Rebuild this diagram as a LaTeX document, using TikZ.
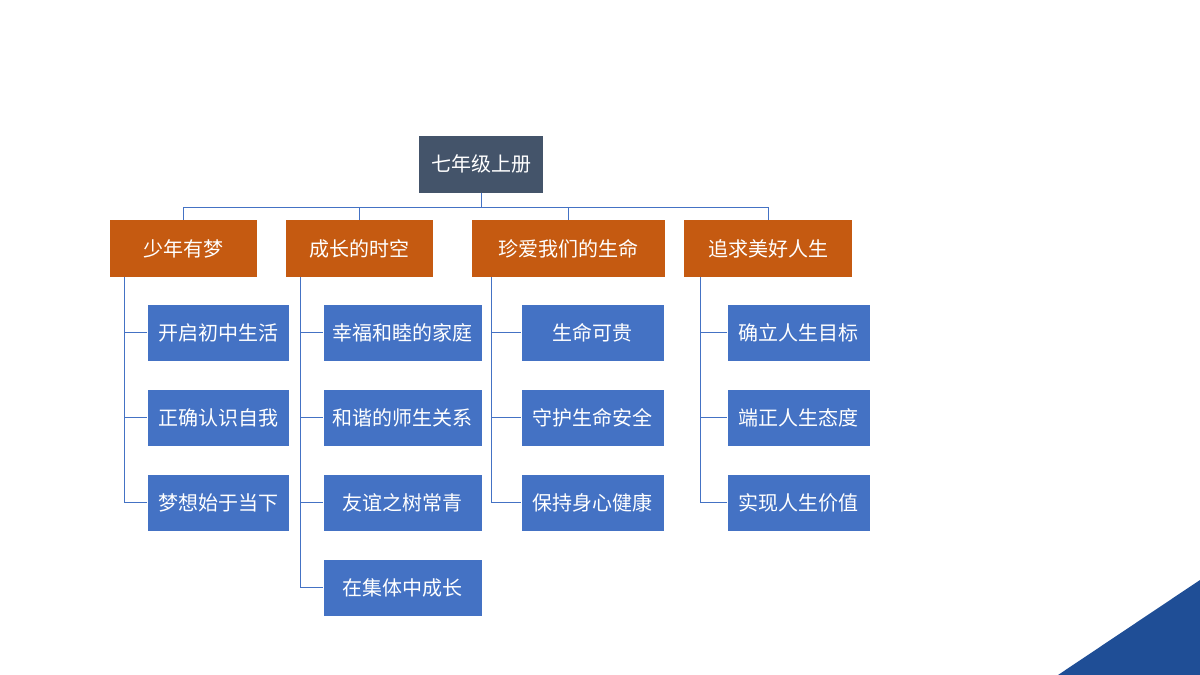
\documentclass[tikz,border=0pt]{standalone}
\usepackage{fontspec}
\setmainfont{Noto Sans CJK SC}
\definecolor{rootc}{HTML}{44546A}
\definecolor{unitc}{HTML}{C55A11}
\definecolor{itemc}{HTML}{4472C4}
\definecolor{cornerc}{HTML}{1F4E96}
\tikzset{
  box/.style = {text=white, font=\fontsize{20}{24}\selectfont, inner sep=0pt, minimum height=57pt},
  rootbox/.style = {box, fill=rootc, minimum width=124pt},
  unitbox/.style = {box, fill=unitc},
  itembox/.style = {box, fill=itemc, draw=white, line width=0.6pt},
  tie/.style = {draw=itemc, line width=1pt}
}
\begin{document}
\begin{tikzpicture}[x=1pt, y=-1pt]
\useasboundingbox (0,0) rectangle (1200,675);
\fill[cornerc] (1058,675) -- (1200,580) -- (1200,675) -- cycle;

\node[rootbox] (root) at (481,164) {七年级上册};

\node[unitbox, minimum width=147pt] (u1) at (183.5,248.5) {少年有梦};
\node[unitbox, minimum width=147pt] (u2) at (359.5,248.5) {成长的时空};
\node[unitbox, minimum width=193pt] (u3) at (568.5,248.5) {珍爱我们的生命};
\node[unitbox, minimum width=168pt] (u4) at (768,248.5) {追求美好人生};

\coordinate (bus) at (481,207);
\draw[tie] (root.south) -- (bus);
\foreach \u in {u1,u2,u3,u4} {\draw[tie] (\u.north) |- (bus);}

% children of each unit
\foreach \t [count=\i] in {开启初中生活,正确认识自我,梦想始于当下}
  {\node[itembox, minimum width=142pt] (a\i) at (218,247.5+85*\i) {\t};
   \draw[tie] (a\i.west) -| (124,277);}
\foreach \t [count=\i] in {幸福和睦的家庭,和谐的师生关系,友谊之树常青,在集体中成长}
  {\node[itembox, minimum width=159pt] (b\i) at (402.5,247.5+85*\i) {\t};
   \draw[tie] (b\i.west) -| (300,277);}
\foreach \t [count=\i] in {生命可贵,守护生命安全,保持身心健康}
  {\node[itembox, minimum width=143pt] (c\i) at (592.5,247.5+85*\i) {\t};
   \draw[tie] (c\i.west) -| (491,277);}
\foreach \t [count=\i] in {确立人生目标,端正人生态度,实现人生价值}
  {\node[itembox, minimum width=143pt] (d\i) at (798.5,247.5+85*\i) {\t};
   \draw[tie] (d\i.west) -| (700,277);}

\end{tikzpicture}
\end{document}
